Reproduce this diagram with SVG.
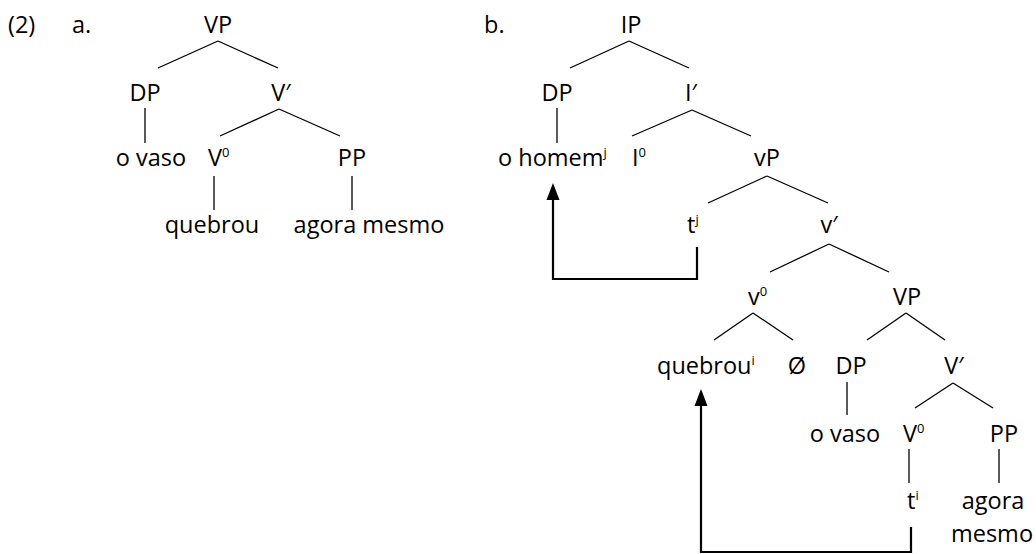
<svg xmlns="http://www.w3.org/2000/svg" width="1036" height="554" viewBox="0 0 1036 554">
<style>
text{font-family:"Open Sans","Noto Sans","Liberation Sans",sans-serif;font-size:23.5px;fill:#000}
.m{text-anchor:middle}
.sup{font-size:13px}
.t line{stroke:#000;stroke-width:1.3}
.arr{fill:none;stroke:#000;stroke-width:2.2}
</style>
<defs>
<marker id="ah" markerUnits="userSpaceOnUse" markerWidth="18" markerHeight="14" refX="14" refY="7" orient="auto" viewBox="0 0 18 14">
<path d="M0,0.5 L17,7 L0,13.5 Z" fill="#000"/>
</marker>
</defs>
<text x="8" y="33">(2)</text>
<text x="72" y="33">a.</text>
<text x="484" y="33">b.</text>
<g id="treeA">
<g id="a-VP"><text class="m" x="218" y="33">VP</text></g>
<g id="a-DP"><text class="m" x="145" y="101">DP</text></g>
<g id="a-Vbar"><text class="m" x="281" y="101">V′</text></g>
<g id="a-ovaso"><text class="m" x="151" y="166">o vaso</text></g>
<g id="a-V0"><text x="208" y="166">V<tspan class="sup" dy="-9">0</tspan></text></g>
<g id="a-PP"><text class="m" x="352" y="166">PP</text></g>
<g id="a-quebrou"><text class="m" x="212" y="233">quebrou</text></g>
<g id="a-agora"><text class="m" x="369" y="233">agora mesmo</text></g>
</g>
<g id="treeB">
<g id="b-IP"><text class="m" x="631" y="33">IP</text></g>
<g id="b-DP"><text class="m" x="557" y="101">DP</text></g>
<g id="b-Ibar"><text class="m" x="691" y="101">I′</text></g>
<g id="b-ohomem"><text x="498" y="166">o homem<tspan class="sup" dy="-9">j</tspan></text></g>
<g id="b-I0"><text x="632" y="166">I<tspan class="sup" dy="-9">0</tspan></text></g>
<g id="b-vP"><text class="m" x="767" y="166">vP</text></g>
<g id="b-tj"><text x="687" y="233">t<tspan class="sup" dy="-9">j</tspan></text></g>
<g id="b-vbar"><text class="m" x="829" y="233">v′</text></g>
<g id="b-v0"><text x="748" y="305">v<tspan class="sup" dy="-9">0</tspan></text></g>
<g id="b-VP"><text class="m" x="907" y="305">VP</text></g>
<g id="b-quebrou"><text x="657" y="374">quebrou<tspan class="sup" dy="-9">i</tspan></text></g>
<g id="b-null"><text class="m" x="797" y="374">Ø</text></g>
<g id="b-DP2"><text class="m" x="851" y="374">DP</text></g>
<g id="b-Vbar"><text class="m" x="954" y="374">V′</text></g>
<g id="b-ovaso"><text class="m" x="845" y="442">o vaso</text></g>
<g id="b-V0"><text x="903" y="442">V<tspan class="sup" dy="-9">0</tspan></text></g>
<g id="b-PP"><text class="m" x="1004" y="442">PP</text></g>
<g id="b-ti"><text x="907" y="509">t<tspan class="sup" dy="-9">i</tspan></text></g>
<g id="b-agora"><text class="m" x="993" y="509">agora</text><text class="m" x="992" y="542">mesmo</text></g>
</g>
<g id="connectors" class="t">
<line x1="218" y1="41" x2="158" y2="68"/>
<line x1="218" y1="41" x2="278" y2="68"/>
<line x1="145" y1="108" x2="145" y2="143"/>
<line x1="279" y1="109" x2="220" y2="136"/>
<line x1="279" y1="109" x2="340" y2="136"/>
<line x1="214" y1="176" x2="214" y2="210"/>
<line x1="352" y1="176" x2="352" y2="210"/>
<line x1="629" y1="41" x2="570" y2="68"/>
<line x1="629" y1="41" x2="689" y2="68"/>
<line x1="557" y1="108" x2="557" y2="143"/>
<line x1="692" y1="110" x2="632" y2="136"/>
<line x1="692" y1="110" x2="751" y2="136"/>
<line x1="767" y1="176" x2="708" y2="203"/>
<line x1="767" y1="176" x2="828" y2="203"/>
<line x1="829" y1="244" x2="770" y2="272"/>
<line x1="829" y1="244" x2="889" y2="272"/>
<line x1="753" y1="313" x2="714" y2="340"/>
<line x1="753" y1="313" x2="793" y2="340"/>
<line x1="906" y1="313" x2="867" y2="340"/>
<line x1="906" y1="313" x2="945" y2="340"/>
<line x1="847" y1="382" x2="847" y2="415"/>
<line x1="953" y1="383" x2="915" y2="408"/>
<line x1="953" y1="383" x2="993" y2="408"/>
<line x1="909" y1="449" x2="909" y2="483"/>
<line x1="999" y1="449" x2="999" y2="483"/>
<path class="arr" d="M697,247 V279 H553 V186" marker-end="url(#ah)"/>
<path class="arr" d="M911,527 V552 H701 V392" marker-end="url(#ah)"/>
</g>
</svg>
